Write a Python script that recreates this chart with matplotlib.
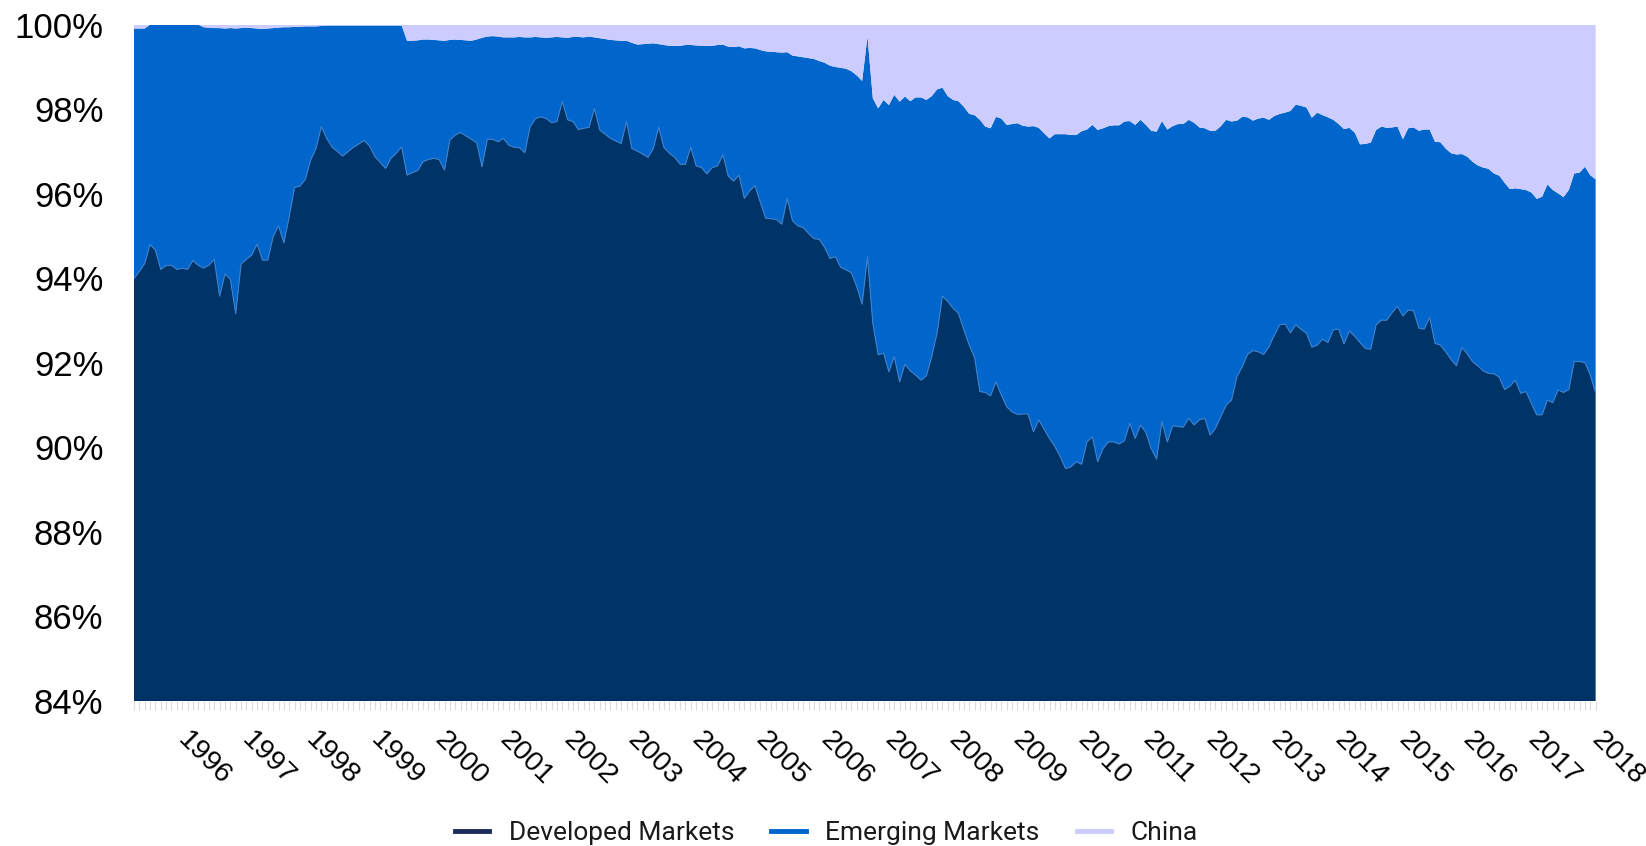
import matplotlib
matplotlib.use('Agg')
import matplotlib.pyplot as plt
import numpy as np
from matplotlib.lines import Line2D
from matplotlib.transforms import ScaledTranslation

plt.rcParams['font.family'] = ['Liberation Sans', 'DejaVu Sans']

# monthly shares (%), Jan 1995 .. Oct 2017, one row per year
developed = [
    94.00, 94.16, 94.35, 94.80, 94.67, 94.21, 94.30, 94.31, 94.21, 94.24, 94.21, 94.42,
    94.31, 94.24, 94.31, 94.45, 93.58, 94.10, 93.98, 93.16, 94.34, 94.45, 94.55, 94.81,
    94.43, 94.43, 94.99, 95.24, 94.84, 95.46, 96.15, 96.18, 96.34, 96.80, 97.07, 97.59,
    97.31, 97.10, 97.00, 96.89, 97.00, 97.10, 97.18, 97.26, 97.13, 96.88, 96.74, 96.60,
    96.84, 96.96, 97.11, 96.44, 96.50, 96.55, 96.76, 96.81, 96.84, 96.81, 96.56, 97.27,
    97.39, 97.45, 97.37, 97.29, 97.21, 96.64, 97.29, 97.29, 97.23, 97.31, 97.15, 97.10,
    97.09, 96.97, 97.59, 97.78, 97.82, 97.78, 97.68, 97.71, 98.18, 97.75, 97.71, 97.52,
    97.55, 97.57, 98.02, 97.51, 97.41, 97.31, 97.25, 97.19, 97.71, 97.07, 97.01, 96.94,
    96.86, 97.07, 97.57, 97.09, 96.96, 96.86, 96.70, 96.70, 97.10, 96.66, 96.62, 96.47,
    96.62, 96.66, 96.92, 96.42, 96.30, 96.44, 95.89, 96.07, 96.19, 95.79, 95.42, 95.41,
    95.39, 95.28, 95.89, 95.36, 95.24, 95.20, 95.06, 94.94, 94.92, 94.73, 94.47, 94.51,
    94.26, 94.20, 94.13, 93.80, 93.39, 94.51, 92.93, 92.19, 92.23, 91.79, 92.15, 91.55,
    91.97, 91.81, 91.71, 91.59, 91.69, 92.15, 92.70, 93.58, 93.45, 93.29, 93.17, 92.78,
    92.42, 92.13, 91.32, 91.30, 91.22, 91.55, 91.24, 90.96, 90.84, 90.78, 90.79, 90.79,
    90.37, 90.65, 90.43, 90.21, 90.02, 89.78, 89.50, 89.54, 89.66, 89.60, 90.13, 90.25,
    89.66, 89.97, 90.13, 90.13, 90.08, 90.16, 90.57, 90.21, 90.53, 90.35, 89.97, 89.72,
    90.61, 90.13, 90.51, 90.49, 90.48, 90.69, 90.53, 90.65, 90.69, 90.29, 90.45, 90.73,
    91.00, 91.12, 91.67, 91.91, 92.20, 92.29, 92.26, 92.20, 92.38, 92.66, 92.90, 92.92,
    92.71, 92.90, 92.79, 92.70, 92.37, 92.42, 92.56, 92.48, 92.78, 92.80, 92.45, 92.75,
    92.63, 92.48, 92.34, 92.32, 92.90, 93.01, 93.01, 93.19, 93.34, 93.11, 93.25, 93.23,
    92.82, 92.80, 93.08, 92.46, 92.42, 92.26, 92.08, 91.93, 92.36, 92.22, 92.03, 91.93,
    91.81, 91.75, 91.74, 91.66, 91.37, 91.45, 91.59, 91.28, 91.32, 91.04, 90.77, 90.77,
    91.12, 91.06, 91.36, 91.30, 91.37, 92.03, 92.03, 92.01, 91.71, 91.29,
]

china = [
    0.09, 0.09, 0.09, 0.00, 0.00, 0.00, 0.00, 0.00, 0.00, 0.00, 0.00, 0.00,
    0.00, 0.06, 0.07, 0.08, 0.08, 0.09, 0.08, 0.09, 0.08, 0.07, 0.08, 0.09,
    0.10, 0.09, 0.08, 0.07, 0.06, 0.06, 0.05, 0.05, 0.04, 0.04, 0.04, 0.03,
    0.02, 0.02, 0.02, 0.02, 0.02, 0.02, 0.02, 0.02, 0.02, 0.02, 0.02, 0.02,
    0.02, 0.02, 0.02, 0.38, 0.38, 0.37, 0.35, 0.35, 0.36, 0.37, 0.38, 0.36,
    0.35, 0.36, 0.37, 0.38, 0.35, 0.31, 0.28, 0.27, 0.28, 0.30, 0.30, 0.30,
    0.29, 0.30, 0.30, 0.29, 0.30, 0.31, 0.30, 0.29, 0.30, 0.31, 0.29, 0.29,
    0.30, 0.28, 0.30, 0.32, 0.34, 0.36, 0.37, 0.38, 0.38, 0.43, 0.47, 0.46,
    0.45, 0.44, 0.46, 0.48, 0.50, 0.50, 0.50, 0.48, 0.48, 0.49, 0.50, 0.50,
    0.50, 0.48, 0.47, 0.52, 0.53, 0.51, 0.56, 0.55, 0.56, 0.60, 0.63, 0.64,
    0.65, 0.66, 0.65, 0.73, 0.75, 0.77, 0.79, 0.81, 0.86, 0.90, 0.97, 1.00,
    1.02, 1.04, 1.10, 1.20, 1.33, 0.28, 1.74, 1.98, 1.78, 1.90, 1.66, 1.82,
    1.70, 1.81, 1.72, 1.72, 1.78, 1.69, 1.53, 1.49, 1.69, 1.78, 1.81, 1.94,
    2.11, 2.14, 2.25, 2.41, 2.45, 2.18, 2.22, 2.37, 2.35, 2.33, 2.39, 2.41,
    2.40, 2.44, 2.57, 2.69, 2.59, 2.59, 2.59, 2.61, 2.61, 2.52, 2.48, 2.37,
    2.49, 2.45, 2.40, 2.38, 2.38, 2.29, 2.28, 2.37, 2.25, 2.37, 2.51, 2.53,
    2.28, 2.48, 2.40, 2.35, 2.35, 2.25, 2.32, 2.43, 2.45, 2.51, 2.51, 2.40,
    2.25, 2.29, 2.27, 2.18, 2.19, 2.27, 2.22, 2.20, 2.25, 2.16, 2.11, 2.08,
    2.04, 1.89, 1.92, 1.96, 2.20, 2.08, 2.14, 2.19, 2.25, 2.35, 2.47, 2.44,
    2.55, 2.83, 2.82, 2.79, 2.49, 2.41, 2.44, 2.43, 2.41, 2.71, 2.45, 2.43,
    2.51, 2.48, 2.48, 2.77, 2.78, 2.93, 3.04, 3.07, 3.06, 3.12, 3.24, 3.33,
    3.38, 3.41, 3.52, 3.57, 3.74, 3.89, 3.87, 3.89, 3.91, 3.97, 4.12, 4.07,
    3.78, 3.91, 3.99, 4.08, 3.91, 3.52, 3.50, 3.36, 3.56, 3.66,
]

series_names = ['Developed Markets', 'Emerging Markets', 'China']
year_labels = [str(y) for y in range(1996, 2019)]
first_year = 1995

developed = np.array(developed)
china = np.array(china)
emerging = 100 - developed - china   # remainder of the total

colors = ['#003366', '#0066cc', '#ccccff']
legend_colors = ['#1c2c5b', '#0066cc', '#ccccff']

x = np.arange(len(developed))

fig = plt.figure(figsize=(16.46, 8.46), dpi=100)
ax = fig.add_axes([0.0814, 0.1714, 0.8880, 0.7994])

ax.stackplot(x, developed, emerging, china, colors=colors, linewidth=0)
ax.plot(x, developed, color='#3f7fca', lw=0.8)

ax.set_xlim(0, len(x) - 1)
ax.set_ylim(84, 100)
yt = np.arange(84, 101, 2)
ax.set_yticks(yt)
ax.set_yticklabels([f'{v}%' for v in yt])
ax.tick_params(axis='y', length=0, pad=22, labelsize=25)

ax.set_xticks([])
ax.set_xticks(x, minor=True)
ax.tick_params(axis='x', which='minor', length=6.5, width=0.8, color='#dcdcdc')

for s in ax.spines.values():
    s.set_visible(False)

# year labels, one per January
off = ScaledTranslation(6 / 100, -26 / 100, fig.dpi_scale_trans)
for lab in year_labels:
    idx = 12 * (int(lab) - first_year)
    ax.text(idx, 84, lab, transform=ax.transData + off, rotation=-45,
            ha='center', va='top', fontsize=20.5, clip_on=False)

handles = [Line2D([0], [0], color=c, lw=3.5) for c in legend_colors]
leg = fig.legend(handles, series_names, loc='center', bbox_to_anchor=(0.502, 0.015),
                 ncol=3, frameon=False, handlelength=1.3, handletextpad=0.75,
                 columnspacing=1.4, prop={'family': 'Roboto', 'size': 19})
for t in leg.get_texts():
    t.set_color('#1a1a1a')

fig.savefig('out.png', dpi=100)
